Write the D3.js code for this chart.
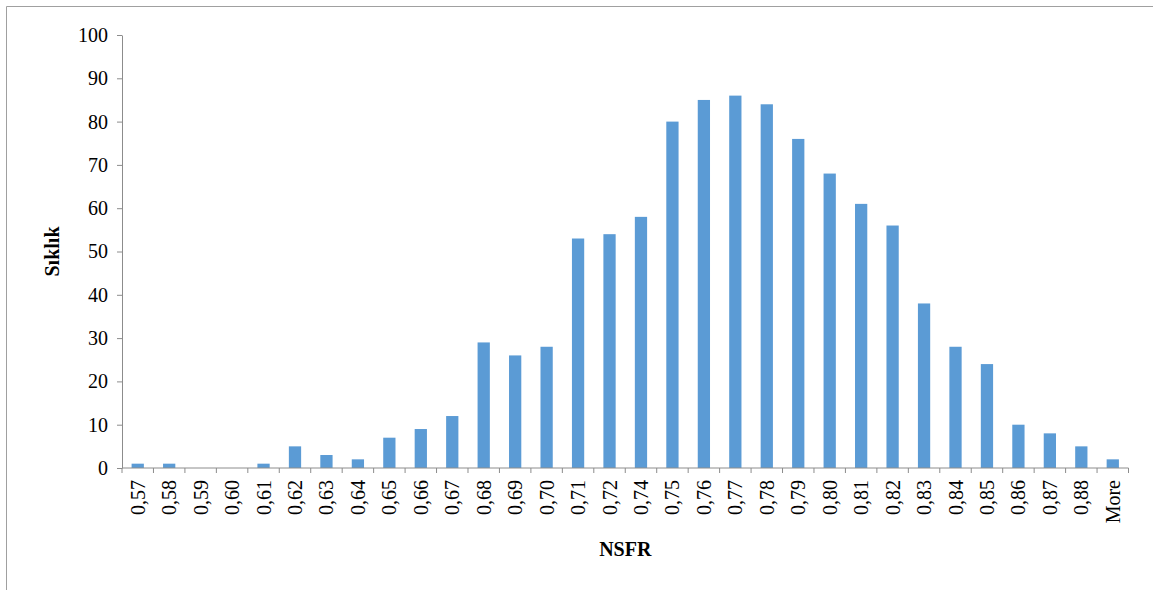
<!DOCTYPE html>
<html>
<head>
<meta charset="utf-8">
<script src="https://cdn.jsdelivr.net/npm/d3@7"></script>
<style>
  html, body { margin: 0; padding: 0; background: #fff; }
  svg { display: block; }
  svg text { font-family: "Liberation Serif", "Times New Roman", Tinos, "DejaVu Serif", serif; }
</style>
</head>
<body>
<svg id="chart" width="1153" height="590"></svg>
<script>
// NSFR histogram bins and frequencies
const categories = ["0,57","0,58","0,59","0,60","0,61","0,62","0,63","0,64","0,65","0,66","0,67","0,68","0,69","0,70","0,71","0,72","0,74","0,75","0,76","0,77","0,78","0,79","0,80","0,81","0,82","0,83","0,84","0,85","0,86","0,87","0,88","More"];
const frequencies = [1,1,0,0,1,5,3,2,7,9,12,29,26,28,53,54,58,80,85,86,84,76,68,61,56,38,28,24,10,8,5,2];
const yTicks = [0,10,20,30,40,50,60,70,80,90,100];
const xTitle = "NSFR";
const yTitle = "Sıklık";

const svg = d3.select("#chart");
const axisColor = "#8c8c8c";

// outer frame (left and top edges)
svg.append("path")
  .attr("d", "M6.5,590 V6.5 H1153")
  .attr("fill", "none")
  .attr("stroke", "#a0a0a0")
  .attr("stroke-width", 1);

const plotLeft = 122, plotRight = 1128.5, plotTop = 35, plotBottom = 468;

const x = d3.scaleBand().domain(categories).range([plotLeft, plotRight]).paddingInner(0.61).paddingOuter(0.305);
const y = d3.scaleLinear().domain([0, 100]).range([plotBottom, plotTop]);

// bars
svg.append("g").selectAll("rect")
  .data(categories.map((c, i) => ({ c, v: frequencies[i] })))
  .join("rect")
  .attr("x", d => x(d.c))
  .attr("width", x.bandwidth())
  .attr("y", d => y(d.v))
  .attr("height", d => y(0) - y(d.v))
  .attr("fill", "#5b9bd5");

// y axis
const yAxis = svg.append("g")
  .attr("transform", `translate(${plotLeft},0)`)
  .call(d3.axisLeft(y).tickValues(yTicks).tickSize(5).tickPadding(9).tickSizeOuter(0));
yAxis.attr("font-family", null);
yAxis.select(".domain").attr("stroke", axisColor);
yAxis.selectAll(".tick line").attr("stroke", axisColor);
yAxis.selectAll("text").attr("font-size", 20).attr("fill", "#000");

// x axis: ticks on band boundaries
const step = x.step();
const xg = svg.append("g").attr("transform", `translate(0,${plotBottom})`);
xg.append("line")
  .attr("x1", plotLeft).attr("x2", plotRight)
  .attr("stroke", axisColor);
const boundaries = d3.range(categories.length + 1).map(i => plotLeft + i * step);
xg.selectAll("line.tick")
  .data(boundaries)
  .join("line")
  .attr("class", "tick")
  .attr("x1", d => d).attr("x2", d => d)
  .attr("y1", 0).attr("y2", 5)
  .attr("stroke", axisColor);
xg.selectAll("text")
  .data(categories)
  .join("text")
  .attr("transform", d => `translate(${x(d) + x.bandwidth() / 2 + 7},12) rotate(-90)`)
  .attr("text-anchor", "end")
  .attr("font-size", 20)
  .attr("fill", "#000")
  .text(d => d);

// axis titles
svg.append("text")
  .attr("x", (plotLeft + plotRight) / 2)
  .attr("y", 556)
  .attr("text-anchor", "middle")
  .attr("font-weight", "bold")
  .attr("font-size", 20)
  .text(xTitle);

svg.append("text")
  .attr("transform", `translate(59,${(plotTop + plotBottom) / 2}) rotate(-90)`)
  .attr("text-anchor", "middle")
  .attr("font-weight", "bold")
  .attr("font-size", 20)
  .text(yTitle);
</script>
</body>
</html>
